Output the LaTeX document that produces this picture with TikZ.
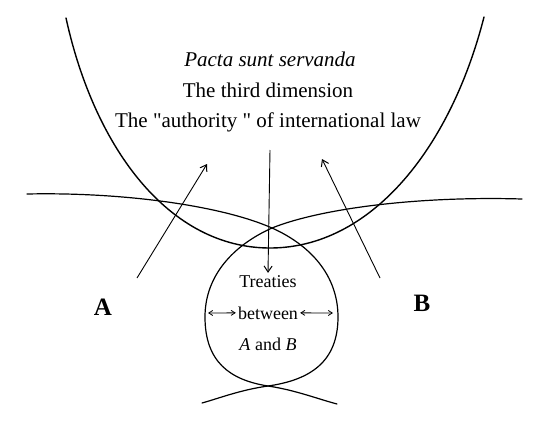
\documentclass[tikz,border=0pt]{standalone}
\usepackage{fontspec}
\setmainfont{Liberation Serif}
\newfontfamily\straightquote{Liberation Serif}[Ligatures=TeXOff]
\usetikzlibrary{arrows.meta}

\begin{document}
\begin{tikzpicture}[x=1pt,y=-1pt,curve/.style={line width=1.2pt,line cap=round},push/.style={line width=0.9pt,-{Straight Barb[length=6pt,width=8pt,line width=1pt]}},both/.style={line width=0.8pt,{Straight Barb[length=4pt,width=5pt]}-{Straight Barb[length=4pt,width=5pt]}},title/.style={anchor=base,inner sep=0pt,font=\fontsize{21}{25}\selectfont},inner/.style={anchor=base,inner sep=2pt,font=\fontsize{18}{21}\selectfont},party/.style={anchor=base,inner sep=0pt,font=\fontsize{25}{29}\selectfont\bfseries}]
\useasboundingbox (0,0) rectangle (550,421);
\coordinate (topend) at (270,150);
\coordinate (aTail) at (137,278);
\coordinate (aTip) at (207,164);
\coordinate (bTail) at (380,278);
\coordinate (bTip) at (322,159);
\coordinate (lwall) at (208,313);
\coordinate (rwall) at (333,313);
% the bowl
\draw[curve,line width=1.4pt] (66,18) .. controls (95,150) and (170,248) .. (270,248) .. controls (370,248) and (450,150) .. (484,17);
% the two crossing lines, making the fish
\draw[curve] (27,194) .. controls (120,192) and (220,205) .. (272,228) .. controls (310,245) and (338,275) .. (338,317) .. controls (338,362) and (310,380) .. (268,386) .. controls (240,390) and (220,398) .. (202,403);
\draw[curve] (522,199) .. controls (420,196) and (322,208) .. (272,228) .. controls (234,245) and (205,275) .. (205,317) .. controls (205,362) and (230,380) .. (268,386) .. controls (295,390) and (318,399) .. (337,404);
\node[title] (pacta) at (270,66) {\itshape Pacta sunt servanda};
\node[title] (third) at (268,97) {The third dimension};
\node[title] (authority) at (268,127) {The {\straightquote"}authority {\straightquote"} of international law};
\node[inner] (treaties) at (268,287) {Treaties};
\node[inner] (between) at (268,319) {between};
\node[inner] (andb) at (268,350) {\textit{A} and \textit{B}};
\node[party] (a) at (103,315) {A};
\node[party] (b) at (422,311) {B};
\draw[push] (topend) -- (treaties.north);
\draw[push] (aTail) -- (aTip);
\draw[push] (bTail) -- (bTip);
\draw[both] (lwall) -- (between.west);
\draw[both] (between.east) -- (rwall);
\end{tikzpicture}
\end{document}
